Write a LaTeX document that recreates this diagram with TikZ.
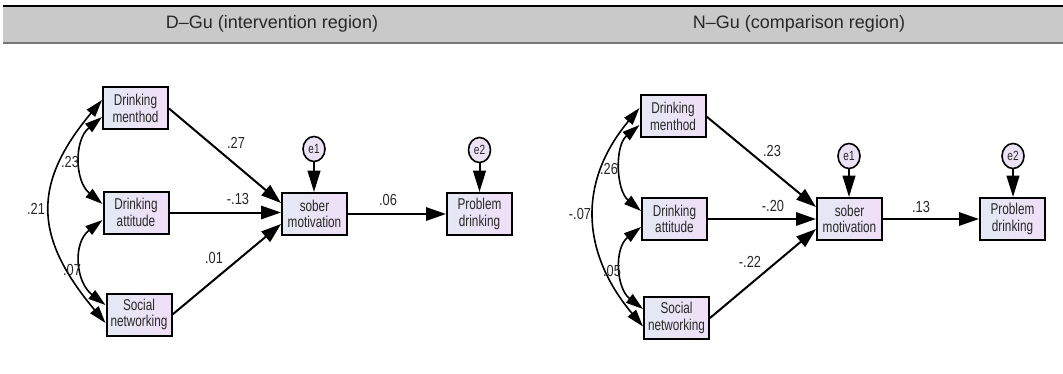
\documentclass[tikz,border=0pt]{standalone}
\usepackage{fontspec}
\setmainfont{Liberation Sans}
\newfontfamily\narrowsans[FakeStretch=0.75]{Liberation Sans}
\newfontfamily\labsans[FakeStretch=0.8]{Liberation Sans}
\usetikzlibrary{arrows.meta,calc,shapes.geometric}
\definecolor{boxL}{RGB}{228,233,244}
\definecolor{boxR}{RGB}{240,222,247}
\definecolor{errfill}{RGB}{236,226,246}
\definecolor{hdrgray}{RGB}{201,201,201}
\definecolor{hdrline}{RGB}{120,120,120}
\definecolor{txt}{RGB}{40,40,40}
\begin{document}
\begin{tikzpicture}[x=0.75pt,y=-0.75pt,
  hdr/.style={font=\fontsize{13.5}{15}\selectfont, text=txt, inner sep=0pt},
  vbox/.style={draw=black, line width=1.5pt, minimum width=48.75pt, minimum height=31.5pt,
    inner sep=0pt, align=center, text=txt, left color=boxL, right color=boxR,
    font=\narrowsans\fontsize{11.75}{12.5}\selectfont},
  err/.style={ellipse, draw=black, line width=1.2pt, fill=errfill, minimum width=16.5pt,
    minimum height=18.75pt, inner sep=0pt, text=txt,
    font=\narrowsans\fontsize{10}{11}\selectfont},
  reg/.style={line width=1.5pt, -{Triangle[length=15pt,width=10pt]}},
  ereg/.style={line width=1.5pt, -{Triangle[length=16pt,width=9.5pt]}},
  cov/.style={line width=1.2pt, {Triangle[length=13pt,width=8pt]}-{Triangle[length=13pt,width=8pt]}},
  lab/.style={font=\labsans\fontsize{12}{13}\selectfont, text=txt, inner sep=0pt}]
\useasboundingbox (0,0) rectangle (1063,374);

% header band
\fill[hdrgray] (3,6) rectangle (1063,42);
\draw[black, line width=0.8pt] (3,6) -- (1063,6);
\draw[hdrline, line width=1.8pt] (3,43) -- (1063,43);
\node[hdr] (h1) at (272,24) {D–Gu (intervention region)};
\node[hdr] (h2) at (799,24) {N–Gu (comparison region)};

% ---------- left model ----------
\node[vbox] (lm) at (135.5,108.5) {Drinking\\menthod};
\node[vbox] (la) at (136,212.5) {Drinking\\attitude};
\node[vbox] (ls) at (139,314.5) {Social\\networking};
\node[vbox] (ls2) at (314.5,214) {sober\\motivation};
\node[vbox] (lp) at (479.5,214) {Problem\\drinking};
\node[err] (le1) at (314,149) {e1};
\node[err] (le2) at (479.5,150) {e2};

\draw[reg] (lm.east) -- ($(ls2.west)+(0,-11)$);
\draw[reg] (la.east) -- (la.east -| ls2.west);
\draw[reg] (ls.east) -- ($(ls2.west)+(0,10)$);
\draw[reg] (ls2.east) -- (lp.west);
\draw[ereg] (le1.south) -- (le1.south |- ls2.north);
\draw[ereg] (le2.south) -- (le2.south |- lp.north);

\draw[cov] ($(lm.west)+(0,-8.5)$) .. controls +(-71,85) and +(-71,-85) .. ($(ls.west)+(0,8.5)$);
\draw[cov] ($(lm.west)+(0,8.5)$) .. controls +(-28,23) and +(-28,-23) .. ($(la.west)+(0,-8.5)$);
\draw[cov] ($(la.west)+(0,7.5)$) .. controls +(-30,23) and +(-30,-23) .. ($(ls.west)+(0,-9.5)$);

\node[lab] (l27) at (236,143) {.27};
\node[lab] (l13) at (238,199) {-.13};
\node[lab] (l01) at (214,258) {.01};
\node[lab] (l06) at (388,200) {.06};
\node[lab] (l23) at (70,162) {.23};
\node[lab] (l21) at (36,209) {.21};
\node[lab] (l07) at (72,270) {.07};

% ---------- right model ----------
\node[vbox] (rm) at (673,116.5) {Drinking\\menthod};
\node[vbox] (ra) at (674.5,219) {Drinking\\attitude};
\node[vbox] (rs) at (676.5,318) {Social\\networking};
\node[vbox] (rs2) at (849.5,219) {sober\\motivation};
\node[vbox] (rp) at (1012.5,219) {Problem\\drinking};
\node[err] (re1) at (849,156) {e1};
\node[err] (re2) at (1013,156) {e2};

\draw[reg] (rm.east) -- ($(rs2.west)+(0,-12)$);
\draw[reg] (ra.east) -- (ra.east -| rs2.west);
\draw[reg] (rs.east) -- ($(rs2.west)+(0,10)$);
\draw[reg] (rs2.east) -- (rp.west);
\draw[ereg] (re1.south) -- (re1.south |- rs2.north);
\draw[ereg] (re2.south) -- (re2.south |- rp.north);

\draw[cov] ($(rm.west)+(0,-8.5)$) .. controls +(-62,74) and +(-62,-74) .. ($(rs.west)+(0,8.5)$);
\draw[cov] ($(rm.west)+(0,8.5)$) .. controls +(-25,21) and +(-25,-21) .. ($(ra.west)+(0,-8)$);
\draw[cov] ($(ra.west)+(0,8)$) .. controls +(-27,21) and +(-27,-21) .. ($(rs.west)+(0,-9)$);

\node[lab] (r23) at (772,151) {.23};
\node[lab] (r20) at (773,206) {-.20};
\node[lab] (r22) at (750,262) {-.22};
\node[lab] (r13) at (921,207) {.13};
\node[lab] (r26) at (609,169) {.26};
\node[lab] (r07) at (580,214) {-.07};
\node[lab] (r05) at (612,271) {.05};
\end{tikzpicture}
\end{document}
